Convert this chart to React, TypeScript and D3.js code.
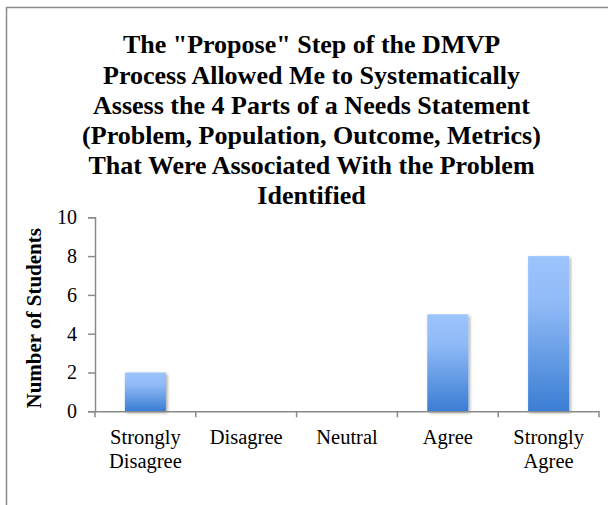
import { useRef, useEffect } from "react";
import * as d3 from "d3";

const categories = ["Strongly Disagree", "Disagree", "Neutral", "Agree", "Strongly Agree"];
const categoryLines = [["Strongly", "Disagree"], ["Disagree"], ["Neutral"], ["Agree"], ["Strongly", "Agree"]];
const counts = [2, 0, 0, 5, 8];
const yTicks = [0, 2, 4, 6, 8, 10];
const titleLines = [
  'The "Propose" Step of the DMVP',
  "Process Allowed Me to Systematically",
  "Assess the 4 Parts of a Needs Statement",
  "(Problem, Population, Outcome, Metrics)",
  "That Were Associated With the Problem",
  "Identified",
];

const W = 608;
const H = 505;

export default function App() {
  const svgRef = useRef<SVGSVGElement | null>(null);

  useEffect(() => {
    const svg = d3.select(svgRef.current);
    if (!svg.node()) return;
    svg.selectAll("*").remove();

    const font = "'Liberation Serif', 'Times New Roman', serif";
    const plot = { left: 95, right: 599, top: 217.3, bottom: 411.3 };

    const x = d3.scaleBand<string>().domain(categories).range([plot.left, plot.right]).padding(0);
    const y = d3.scaleLinear().domain([0, 10]).range([plot.bottom, plot.top]);

    const defs = svg.append("defs");
    const grad = defs
      .append("linearGradient")
      .attr("id", "barGrad")
      .attr("x1", 0)
      .attr("y1", 0)
      .attr("x2", 0)
      .attr("y2", 1);
    grad.append("stop").attr("offset", "0%").attr("stop-color", "#9cc4fd");
    grad.append("stop").attr("offset", "30%").attr("stop-color", "#91bbf7");
    grad.append("stop").attr("offset", "100%").attr("stop-color", "#3a7dd3");

    const shadow = defs
      .append("filter")
      .attr("id", "shadow")
      .attr("x", "-20%")
      .attr("y", "-20%")
      .attr("width", "150%")
      .attr("height", "150%");
    shadow
      .append("feDropShadow")
      .attr("dx", 1.5)
      .attr("dy", 1.5)
      .attr("stdDeviation", 1.8)
      .attr("flood-color", "#000")
      .attr("flood-opacity", 0.35);

    // chart border (cropped on right and bottom)
    svg
      .append("rect")
      .attr("x", 6.5)
      .attr("y", 7.5)
      .attr("width", W + 20)
      .attr("height", H + 20)
      .attr("fill", "#fff")
      .attr("stroke", "#8a8a8a")
      .attr("stroke-width", 1.5);

    // title
    const title = svg
      .append("text")
      .attr("x", 311.5)
      .attr("text-anchor", "middle")
      .attr("font-family", font)
      .attr("font-weight", "bold")
      .attr("font-size", 26)
      .attr("fill", "#000");
    titleLines.forEach((line, i) => {
      title.append("tspan").attr("x", 311.5).attr("y", 53.3 + i * 30.2).text(line);
    });

    // bars
    const barW = x.bandwidth() * 0.407;
    svg
      .append("g")
      .selectAll("rect")
      .data(counts.map((v, i) => ({ cat: categories[i], v })).filter((d) => d.v > 0))
      .join("rect")
      .attr("x", (d) => (x(d.cat) as number) + x.bandwidth() / 2 - barW / 2)
      .attr("y", (d) => y(d.v))
      .attr("width", barW)
      .attr("height", (d) => y(0) - y(d.v))
      .attr("fill", "url(#barGrad)")
      .attr("filter", "url(#shadow)");

    // y axis
    const yAxis = svg
      .append("g")
      .attr("transform", `translate(${plot.left},0)`)
      .call(d3.axisLeft(y).tickValues(yTicks).tickSize(7).tickPadding(11).tickSizeOuter(7));
    yAxis.select(".domain").attr("stroke", "#8a8a8a").attr("stroke-width", 1.5);
    yAxis.selectAll(".tick line").attr("stroke", "#8a8a8a").attr("stroke-width", 1.5);
    yAxis
      .selectAll(".tick text")
      .attr("font-family", font)
      .attr("font-size", 20)
      .attr("fill", "#000");

    // x axis
    const xAxis = svg
      .append("g")
      .attr("transform", `translate(0,${plot.bottom})`)
      .call(d3.axisBottom(x).tickSize(0).tickSizeOuter(0).tickFormat(() => ""));
    xAxis.select(".domain").attr("stroke", "#8a8a8a").attr("stroke-width", 1.5);
    const bounds = categories.map((c) => (x(c) as number) + x.bandwidth()).concat([plot.left]);
    xAxis
      .append("g")
      .selectAll("line")
      .data(bounds)
      .join("line")
      .attr("x1", (d) => d)
      .attr("x2", (d) => d)
      .attr("y1", 0)
      .attr("y2", 6)
      .attr("stroke", "#8a8a8a")
      .attr("stroke-width", 1.5);

    // category labels
    const labels = svg
      .append("g")
      .attr("font-family", font)
      .attr("font-size", 20.5)
      .attr("text-anchor", "middle")
      .attr("fill", "#000");
    categories.forEach((c, i) => {
      const t = labels.append("text");
      categoryLines[i].forEach((line, j) => {
        t.append("tspan")
          .attr("x", (x(c) as number) + x.bandwidth() / 2)
          .attr("y", 444 + j * 24)
          .text(line);
      });
    });

    // y axis title
    svg
      .append("text")
      .attr("transform", `translate(41,${(plot.top + plot.bottom) / 2 + 4}) rotate(-90)`)
      .attr("text-anchor", "middle")
      .attr("font-family", font)
      .attr("font-weight", "bold")
      .attr("font-size", 21)
      .attr("fill", "#000")
      .text("Number of Students");
  }, []);

  return (
    <div style={{ position: "absolute", top: 0, left: 0, width: W, height: H }}>
      <svg ref={svgRef} width={W} height={H} style={{ display: "block" }} />
    </div>
  );
}
